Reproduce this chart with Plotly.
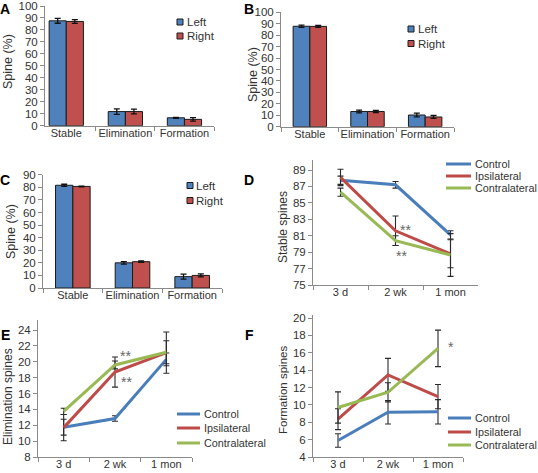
import plotly.graph_objects as go

W, H = 538, 473

# ---------------- data ----------------
bar_categories = ["Stable", "Elimination", "Formation"]
bar_series = ["Left", "Right"]

A_left = [87.6, 11.8, 6.6]
A_left_err = [2.0, 2.3, 0.4]
A_right = [87.1, 11.8, 5.3]
A_right_err = [1.6, 2.0, 1.5]

B_left = [87.8, 13.3, 10.2]
B_left_err = [1.0, 1.2, 1.6]
B_right = [87.7, 13.3, 8.5]
B_right_err = [0.9, 1.0, 1.3]

C_left = [81.6, 20.0, 9.0]
C_left_err = [0.8, 1.0, 2.0]
C_right = [80.7, 20.9, 10.0]
C_right_err = [0.3, 0.6, 1.2]

timepoints = ["3 d", "2 wk", "1 mon"]
line_series = ["Control", "Ipsilateral", "Contralateral"]

D_control = [87.75, 87.2, 81.1]
D_control_err = [0.5, 0.4, 0.5]
D_ipsi = [88.1, 81.6, 78.8]
D_ipsi_err = [1.0, 1.8, 1.7]
D_contra = [86.3, 80.4, 78.65]
D_contra_err = [0.5, 0.6, 2.6]

E_control = [11.75, 12.85, 20.3]
E_control_err = [1.0, 0.35, 0.8]
E_ipsi = [11.7, 18.7, 21.15]
E_ipsi_err = [1.65, 1.9, 2.6]
E_contra = [13.75, 19.6, 21.2]
E_contra_err = [0.4, 0.5, 1.45]

F_control = [5.9, 9.15, 9.2]
F_control_err = [0.77, 1.35, 1.4]
F_ipsi = [8.35, 13.45, 10.95]
F_ipsi_err = [1.2, 1.9, 1.4]
F_contra = [9.7, 11.45, 16.5]
F_contra_err = [1.8, 1.1, 2.1]

# ---------------- styles ----------------
FONT = "Liberation Sans, Arial, sans-serif"
TXT = "#333333"
AX = "#8a8a8a"
BAR_COLORS = ["#4F81BD", "#C0504D"]
LINE_COLORS = ["#4A7EBB", "#BE4B48", "#98B954"]


def px(x):
    return x / W


def py(y):
    return 1 - y / H


fig = go.Figure()

# panel geometry in pixels: (x0, x1, y_top, y_bottom)
panels = {
    "A": dict(ax="", x=(45, 214), y=(6, 125.7), yr=[0, 100], yt=list(range(0, 101, 10)), xr=[-0.36, 2.5]),
    "B": dict(ax="2", x=(281, 454), y=(12.3, 126.7), yr=[0, 100], yt=list(range(0, 101, 10)), xr=[-0.5, 2.5]),
    "C": dict(ax="3", x=(43, 222), y=(174.7, 288), yr=[0, 90], yt=list(range(0, 91, 10)), xr=[-0.5, 2.5]),
    "D": dict(ax="4", x=(313, 478), y=(160, 285), yr=[75, 89 + 10 / 8.21], yt=list(range(75, 90, 2)), xr=[-0.5, 2.5]),
    "E": dict(ax="5", x=(38, 192), y=(320, 457), yr=[8, 24 + 10 / 7.94], yt=list(range(8, 25, 2)), xr=[-0.5, 2.5]),
    "F": dict(ax="6", x=(313, 463), y=(315, 457), yr=[4, 20 + 3 / 8.69], yt=list(range(4, 21, 2)), xr=[-0.5, 2.5]),
}

layout_axes = {}
for name, p in panels.items():
    sfx = p["ax"]
    cats = bar_categories if name in "ABC" else timepoints
    layout_axes["xaxis" + sfx] = dict(
        domain=[px(p["x"][0]), px(p["x"][1])],
        anchor="y" + sfx,
        type="category",
        categoryorder="array",
        categoryarray=cats,
        range=p["xr"],
        tickson="boundaries",
        ticks="outside",
        ticklen=4,
        tickcolor=AX,
        tickangle=0,
        ticklabelstandoff=-3,
        showline=True,
        linecolor=AX,
        linewidth=1,
        showgrid=False,
        zeroline=False,
        automargin=False,
        tickfont=dict(family=FONT, size=11, color=TXT),
        fixedrange=True,
    )
    layout_axes["yaxis" + sfx] = dict(
        domain=[py(p["y"][1]), py(p["y"][0])],
        anchor="x" + sfx,
        range=p["yr"],
        tickmode="array",
        tickvals=p["yt"],
        ticks="outside",
        ticklen=4,
        tickcolor=AX,
        showline=True,
        linecolor=AX,
        linewidth=1,
        showgrid=False,
        zeroline=False,
        automargin=False,
        tickfont=dict(family=FONT, size=11.5, color=TXT),
        fixedrange=True,
    )

# ---------------- bar panels ----------------
bar_data = {
    "A": [(A_left, A_left_err), (A_right, A_right_err)],
    "B": [(B_left, B_left_err), (B_right, B_right_err)],
    "C": [(C_left, C_left_err), (C_right, C_right_err)],
}
BW = 0.29
for name, series in bar_data.items():
    sfx = panels[name]["ax"]
    for i, (vals, errs) in enumerate(series):
        fig.add_trace(go.Bar(
            x=bar_categories, y=vals,
            name=bar_series[i],
            width=BW, offset=-BW if i == 0 else 0,
            marker=dict(color=BAR_COLORS[i], line=dict(color="#1a1a1a", width=1)),
            error_y=dict(type="data", array=errs, visible=True, color="#111111", thickness=1.3, width=3),
            xaxis="x" + sfx, yaxis="y" + sfx,
            showlegend=False,
        ))

# ---------------- line panels ----------------
line_data = {
    "D": [(D_control, D_control_err), (D_ipsi, D_ipsi_err), (D_contra, D_contra_err)],
    "E": [(E_control, E_control_err), (E_ipsi, E_ipsi_err), (E_contra, E_contra_err)],
    "F": [(F_control, F_control_err), (F_ipsi, F_ipsi_err), (F_contra, F_contra_err)],
}
for name, series in line_data.items():
    sfx = panels[name]["ax"]
    for i, (vals, errs) in enumerate(series):
        fig.add_trace(go.Scatter(
            x=timepoints, y=vals,
            name=line_series[i],
            mode="lines",
            line=dict(color=LINE_COLORS[i], width=3),
            error_y=dict(type="data", array=errs, visible=True, color="#2a2a2a", thickness=1.1, width=3),
            xaxis="x" + sfx, yaxis="y" + sfx,
            showlegend=False,
        ))

annotations = []
shapes = []

# panel letters
letters = {"A": (5, 9), "B": (249, 9), "C": (5, 180), "D": (249, 180), "E": (5, 335), "F": (249, 335)}
for k, (x, y) in letters.items():
    annotations.append(dict(text=f"<b>{k}</b>", x=px(x), y=py(y), xref="paper", yref="paper",
                            showarrow=False, xanchor="center", yanchor="middle",
                            font=dict(family=FONT, size=14, color="#000000")))

# y-axis titles
ytitles = [("Spine (%)", 8, 62, 12.5), ("Spine (%)", 253, 75, 12.5), ("Spine (%)", 11, 232, 12.5),
           ("Stable spines", 283, 227, 12), ("Elimination spines", 8, 397, 12),
           ("Formation spines", 283, 390, 11.5)]
for t, x, y, s in ytitles:
    annotations.append(dict(text=t, x=px(x), y=py(y), xref="paper", yref="paper", showarrow=False,
                            textangle=-90, xanchor="center", yanchor="middle",
                            font=dict(family=FONT, size=s, color=TXT)))

# legends (bar panels): square marker + label
bar_leg = {"A": (177, [22, 36], 185), "B": (408, [29, 43.5], 416), "C": (187, [185.5, 200.5], 194)}
for name, (sx, ys, tx) in bar_leg.items():
    for i, yy in enumerate(ys):
        shapes.append(dict(type="rect", xref="paper", yref="paper",
                           x0=px(sx), x1=px(sx + 6), y0=py(yy + 3), y1=py(yy - 3),
                           fillcolor=BAR_COLORS[i], line=dict(color="#1a1a1a", width=1)))
        annotations.append(dict(text=bar_series[i], x=px(tx), y=py(yy), xref="paper", yref="paper",
                                showarrow=False, xanchor="left", yanchor="middle",
                                font=dict(family=FONT, size=11.5, color=TXT)))

# legends (line panels): line sample + label
line_leg = {"D": (446, 471, [164, 176, 188], 474), "E": (177, 200, [414, 428, 443], 203),
            "F": (448, 471, [418, 432, 445], 474)}
for name, (lx0, lx1, ys, tx) in line_leg.items():
    for i, yy in enumerate(ys):
        shapes.append(dict(type="line", xref="paper", yref="paper",
                           x0=px(lx0), x1=px(lx1), y0=py(yy), y1=py(yy),
                           line=dict(color=LINE_COLORS[i], width=3)))
        annotations.append(dict(text=line_series[i], x=px(tx), y=py(yy), xref="paper", yref="paper",
                                showarrow=False, xanchor="left", yanchor="middle", borderpad=0,
                                font=dict(family=FONT, size=10.8, color=TXT)))

# significance markers
sig = [("**", "x4", "y4", "2 wk", 82.1, 10), ("**", "x4", "y4", "2 wk", 78.9, 6),
       ("**", "x5", "y5", "2 wk", 21.1, 10), ("**", "x5", "y5", "2 wk", 17.8, 11),
       ("*", "x6", "y6", "1 mon", 17.0, 13)]
for t, xr, yr, xv, yv, xs in sig:
    annotations.append(dict(text=t, x=xv, y=yv, xref=xr, yref=yr, xshift=xs, yshift=-3,
                            showarrow=False, xanchor="center", yanchor="middle",
                            font=dict(family=FONT, size=14, color="#666666")))

fig.update_layout(
    width=W, height=H,
    margin=dict(l=0, r=0, t=0, b=0),
    paper_bgcolor="white", plot_bgcolor="white",
    barmode="overlay",
    showlegend=False,
    annotations=annotations,
    shapes=shapes,
    **layout_axes,
)

fig.write_html(
    "out.html",
    config={"displayModeBar": False},
    post_script="document.body.style.margin='0';document.body.style.padding='0';"
                "document.body.style.overflow='hidden';",
)
